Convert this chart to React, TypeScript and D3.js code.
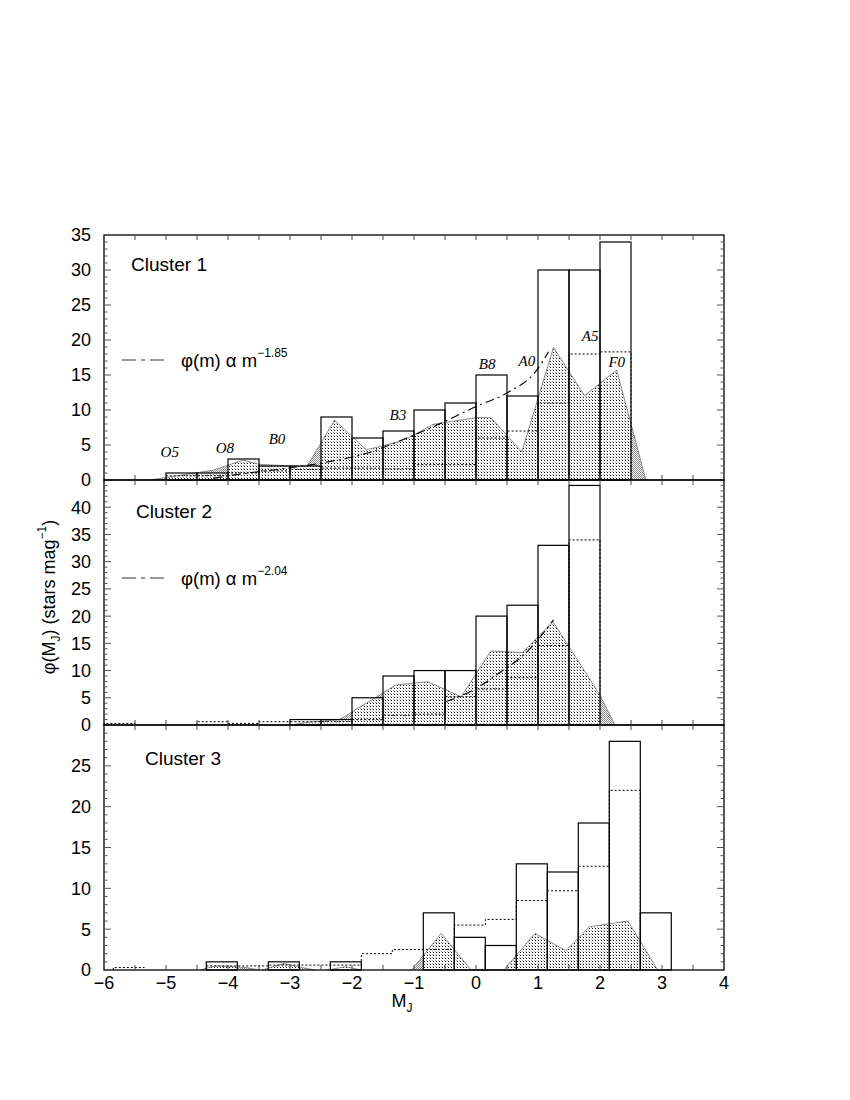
import React from "react";
import * as d3 from "d3";

const BIN = 0.5;
const X_TICKS = [-6, -5, -4, -3, -2, -1, 0, 1, 2, 3, 4];

// Cluster 1
const c1Bins = [-5, -4.5, -4, -3.5, -3, -2.5, -2, -1.5, -1, -0.5, 0, 0.5, 1, 1.5, 2];
const c1Counts = [1, 1, 3, 2, 2, 9, 6, 7, 10, 11, 15, 12, 30, 30, 34];
const c1DotCounts = [0.6, 0.6, 1.0, 1.3, 1.5, 1.7, 1.7, 1.6, 2.2, 2.2, 6, 7, 11, 18, 18.3];
const c1ShadeM = [-5.26, -4.24, -3.75, -3.51, -2.73, -2.28, -1.77, -1.23, -1.01, -0.69, 0.0, 0.24, 0.74, 1.25, 1.75, 2.27, 2.74];
const c1ShadeV = [0, 1.4, 2.86, 2.24, 1.9, 8.57, 4.3, 5.5, 6.4, 7.95, 8.9, 8.9, 4.05, 18.95, 12.05, 15.7, 0];
const c1FitM = [-4.24, -3.92, -3.06, -2.52, -1.77, -1.01, -0.69, 0.0, 0.49, 0.98, 1.17];
const c1FitV = [0.24, 0.7, 1.67, 2.38, 3.8, 6.4, 7.6, 10.5, 12.4, 15.7, 18.3];
const c1Types = ["O5", "O8", "B0", "B3", "B8", "A0", "A5", "F0"];
const c1TypeM = [-4.94, -4.05, -3.21, -1.26, 0.18, 0.82, 1.84, 2.27];
const c1TypeV = [3.3, 3.9, 5.1, 8.6, 15.9, 16.3, 19.9, 16.1];

// Cluster 2
const c2Bins = [-3, -2.5, -2, -1.5, -1, -0.5, 0, 0.5, 1, 1.5];
const c2Counts = [1, 1, 5, 9, 10, 10, 20, 22, 33, 44];
const c2DotBins = [-6, -4.5, -4, -3.5, -3, -2.5, -2, -1.5, -1, -0.5, 0, 0.5, 1, 1.5];
const c2DotCounts = [0.3, 0.6, 0.3, 0.6, 0.6, 0.6, 1, 1.8, 2, 5.2, 6.6, 8.7, 14.6, 34];
const c2ShadeM = [-3.0, -2.7, -2.2, -1.29, -0.78, -0.24, 0.24, 0.75, 1.24, 2.0, 2.24];
const c2ShadeV = [0, 0.5, 1.0, 7.35, 7.96, 5.2, 13.6, 13.3, 19.0, 5.5, 0];
const c2FitM = [-0.48, 0.0, 0.38, 0.8, 1.25];
const c2FitV = [4.3, 6.7, 9.6, 13.2, 19.3];

// Cluster 3
const c3Bins = [-4.35, -3.35, -2.35, -0.85, -0.35, 0.15, 0.65, 1.15, 1.65, 2.15, 2.65];
const c3Counts = [1, 1, 1, 7, 4, 3, 13, 12, 18, 28, 7];
const c3DotBins = [-5.85, -4.35, -3.85, -3.35, -2.85, -2.35, -1.85, -1.35, -0.85, -0.35, 0.15, 0.65, 1.15, 1.65, 2.15];
const c3DotCounts = [0.3, 0.5, 0.5, 0.6, 0.6, 0.6, 2, 2.5, 2.5, 5.5, 6.2, 8.5, 9.7, 12.7, 22];
const c3ShadeM = [
  [-4.45, -4.2, -3.7, -3.5],
  [-3.45, -3.1, -2.8, -2.6],
  [-2.4, -2.1, -1.85],
  [-1.04, -0.56, -0.08],
  [0.45, 0.95, 1.45, 1.83, 2.45, 2.93],
];
const c3ShadeV = [
  [0, 0.5, 0.3, 0],
  [0, 0.8, 0.3, 0],
  [0, 0.4, 0],
  [0, 4.48, 0],
  [0, 4.48, 2.36, 5.3, 6.0, 0],
];

const x = d3.scaleLinear().domain([-6, 4]).range([104, 724]);

const panels = [
  {
    id: "p1", name: "Cluster 1", top: 235, bottom: 480, yMax: 35, labelMax: 35,
    bins: c1Bins, counts: c1Counts, dotBins: c1Bins, dotCounts: c1DotCounts,
    shadeM: [c1ShadeM], shadeV: [c1ShadeV], fitM: c1FitM, fitV: c1FitV,
    exponent: "\u22121.85", nameX: 131, nameY: 271, legY: 360,
  },
  {
    id: "p2", name: "Cluster 2", top: 480, bottom: 725, yMax: 45, labelMax: 40,
    bins: c2Bins, counts: c2Counts, dotBins: c2DotBins, dotCounts: c2DotCounts,
    shadeM: [c2ShadeM], shadeV: [c2ShadeV], fitM: c2FitM, fitV: c2FitV,
    exponent: "\u22122.04", nameX: 136, nameY: 518, legY: 578,
  },
  {
    id: "p3", name: "Cluster 3", top: 725, bottom: 970, yMax: 30, labelMax: 25,
    bins: c3Bins, counts: c3Counts, dotBins: c3DotBins, dotCounts: c3DotCounts,
    shadeM: c3ShadeM, shadeV: c3ShadeV, fitM: null, fitV: null,
    exponent: null, nameX: 145, nameY: 765, legY: 0,
  },
];

function stepPath(bins: number[], counts: number[], y: d3.ScaleLinear<number, number>) {
  let d = "";
  bins.forEach((b, i) => {
    const x0 = x(b), x1 = x(b + BIN), yy = y(counts[i]);
    const joined = i > 0 && Math.abs(bins[i - 1] + BIN - b) < 1e-6;
    d += joined ? `L${x0},${yy}` : `M${x0},${y(0)}L${x0},${yy}`;
    d += `L${x1},${yy}`;
    const next = i < bins.length - 1 && Math.abs(b + BIN - bins[i + 1]) < 1e-6;
    if (!next) d += `L${x1},${y(0)}`;
  });
  return d;
}

const sans = "'Liberation Sans', Arial, Helvetica, sans-serif";
const serif = "'Liberation Serif', 'Times New Roman', serif";

function Panel({ p }: { p: (typeof panels)[number] }) {
  const y = d3.scaleLinear().domain([0, p.yMax]).range([p.bottom, p.top]);
  const area = d3.line<[number, number]>().x((d) => x(d[0])).y((d) => y(d[1]));
  const fitLine = d3.line<[number, number]>().x((d) => x(d[0])).y((d) => y(d[1])).curve(d3.curveMonotoneX);
  const polys = p.shadeM.map((ms, k) => ms.map((m, i) => [m, p.shadeV[k][i]] as [number, number]));
  const xMinor = d3.range(-5.5, 4, 0.5);
  const yMinor = d3.range(1, p.yMax, 1);
  const yLabels = d3.range(0, p.labelMax + 1, 5);
  return (
    <g>
      <defs>
        <clipPath id={`bars-${p.id}`}>
          {p.bins.map((b, i) => (
            <rect key={i} x={x(b)} y={y(p.counts[i])} width={x(b + BIN) - x(b)} height={y(0) - y(p.counts[i])} />
          ))}
        </clipPath>
      </defs>
      {polys.map((pts, k) => (
        <path key={`s${k}`} d={area(pts) + "Z"} fill="url(#grayDots)" stroke="none" />
      ))}
      <g clipPath={`url(#bars-${p.id})`}>
        {polys.map((pts, k) => (
          <path key={`d${k}`} d={area(pts) + "Z"} fill="url(#darkDots)" stroke="none" />
        ))}
      </g>
      {polys.map((pts, k) => (
        <path key={`o${k}`} d={area(pts) ?? ""} fill="none" stroke="#777" strokeWidth={0.8} />
      ))}
      <path d={stepPath(p.dotBins, p.dotCounts, y)} fill="none" stroke="#000" strokeWidth={1} strokeDasharray="2,2" />
      {p.bins.map((b, i) => (
        <rect key={`b${i}`} x={x(b)} y={y(p.counts[i])} width={x(b + BIN) - x(b)} height={y(0) - y(p.counts[i])}
          fill="none" stroke="#000" strokeWidth={1.2} />
      ))}
      {p.fitM && p.fitV && (
        <path d={fitLine(p.fitM.map((m, i) => [m, p.fitV![i]] as [number, number])) ?? ""} fill="none"
          stroke="#000" strokeWidth={1.1} strokeDasharray="9,4,2,4" />
      )}
      {/* frame */}
      <rect x={x(-6)} y={p.top} width={x(4) - x(-6)} height={p.bottom - p.top} fill="none" stroke="#000" strokeWidth={1.3} />
      {xMinor.map((m) => (
        <g key={`xt${m}`} stroke="#444" strokeWidth={1}>
          <line x1={x(m)} x2={x(m)} y1={p.top} y2={p.top + 5} />
          <line x1={x(m)} x2={x(m)} y1={p.bottom} y2={p.bottom - 5} />
        </g>
      ))}
      {yMinor.map((v) => {
        const len = v % 5 === 0 ? 7 : 3.5;
        return (
          <g key={`yt${v}`} stroke="#555" strokeWidth={1}>
            <line x1={x(-6)} x2={x(-6) + len} y1={y(v)} y2={y(v)} />
            <line x1={x(4)} x2={x(4) - len} y1={y(v)} y2={y(v)} />
          </g>
        );
      })}
      {yLabels.map((v) => (
        <text key={`yl${v}`} x={91} y={y(v)} dy="0.36em" textAnchor="end" fontFamily={sans} fontSize={18}>
          {v}
        </text>
      ))}
      <text x={p.nameX} y={p.nameY} fontFamily={sans} fontSize={19}>{p.name}</text>
      {p.exponent && (
        <g>
          <line x1={122} x2={167} y1={p.legY} y2={p.legY} stroke="#333" strokeWidth={1.2} strokeDasharray="14,5,4,5" />
          <text x={181} y={p.legY + 7} fontFamily={sans} fontSize={18.5}>
            {"\u03C6(m) \u03B1 m"}
            <tspan dy={-10} fontSize={12}>{p.exponent}</tspan>
          </text>
        </g>
      )}
      {p.id === "p1" &&
        c1Types.map((t, i) => (
          <text key={t} x={x(c1TypeM[i])} y={y(c1TypeV[i])} textAnchor="middle" fontFamily={serif}
            fontStyle="italic" fontSize={15}>
            {t}
          </text>
        ))}
    </g>
  );
}

export default function App() {
  return (
    <svg width={850} height={1100} style={{ position: "absolute", left: 0, top: 0, background: "#fff" }}>
      <defs>
        <pattern id="grayDots" width={2} height={2} patternUnits="userSpaceOnUse">
          <rect x={0} y={0} width={1} height={1} fill="#888" />
          <rect x={1} y={1} width={1} height={1} fill="#888" />
        </pattern>
        <pattern id="darkDots" width={3} height={3} patternUnits="userSpaceOnUse">
          <rect x={0} y={0} width={3} height={3} fill="#fff" />
          <rect x={1} y={1} width={1} height={1} fill="#000" />
          <rect x={0} y={0} width={1} height={1} fill="#aaa" />
        </pattern>
      </defs>
      <rect x={0} y={0} width={850} height={1100} fill="#fff" />
      {panels.map((p) => (
        <Panel key={p.id} p={p} />
      ))}
      {X_TICKS.map((m) => (
        <text key={`xl${m}`} x={x(m)} y={989} textAnchor="middle" fontFamily={sans} fontSize={18}>
          {m < 0 ? `\u2212${-m}` : m}
        </text>
      ))}
      <text x={402} y={1007} textAnchor="middle" fontFamily={sans} fontSize={18}>
        M<tspan dy={5} fontSize={12}>J</tspan>
      </text>
      <text transform="translate(55,597) rotate(-90)" textAnchor="middle" fontFamily={sans} fontSize={18}>
        {"\u03C6(M"}
        <tspan dy={5} fontSize={12}>J</tspan>
        <tspan dy={-5}>{") (stars mag"}</tspan>
        <tspan dy={-9} fontSize={12}>{"\u22121"}</tspan>
        <tspan dy={9}>)</tspan>
      </text>
    </svg>
  );
}
